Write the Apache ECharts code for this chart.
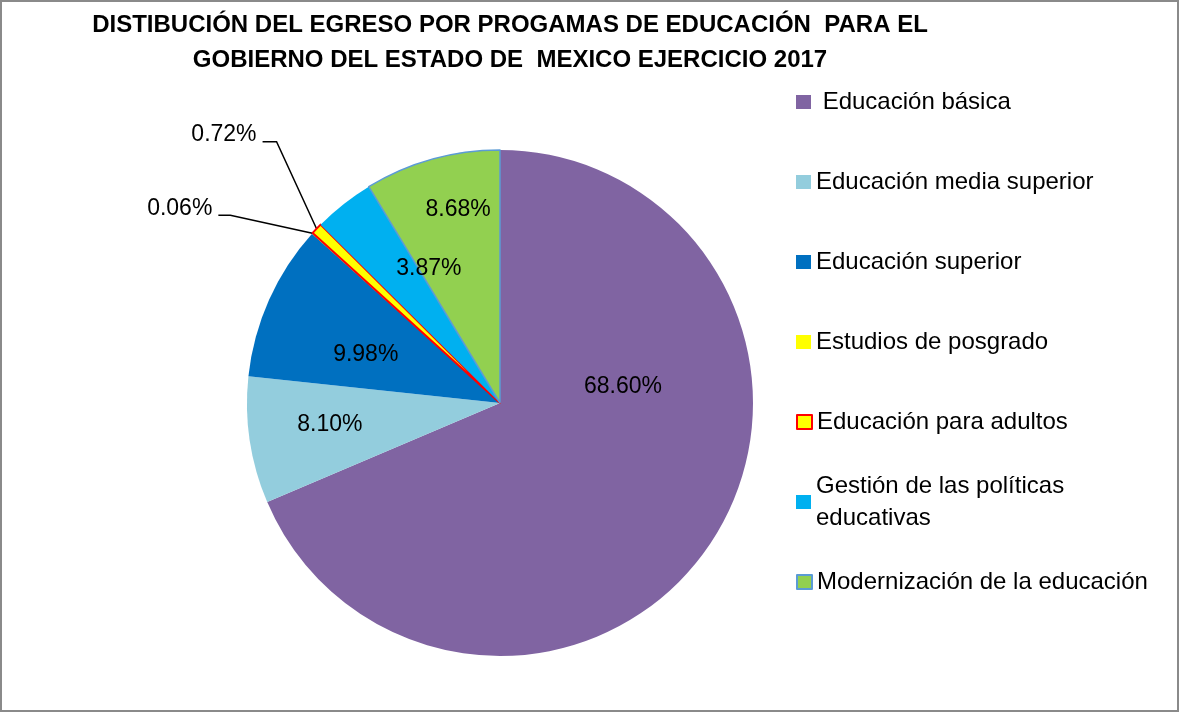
<!DOCTYPE html>
<html><head><meta charset="utf-8">
<script src="https://cdn.jsdelivr.net/npm/echarts@6/dist/echarts.min.js"></script>
<style>html,body{margin:0;padding:0;background:#fff}#c{width:1180px;height:713px}</style>
</head><body><div id="c"></div>
<script>
// ---- data ----
const titleLines = ['DISTIBUCIÓN DEL EGRESO POR PROGAMAS DE EDUCACIÓN  PARA EL', 'GOBIERNO DEL ESTADO DE  MEXICO EJERCICIO 2017'];
const categories = [' Educación básica', 'Educación media superior', 'Educación superior', 'Estudios de posgrado', 'Educación para adultos', 'Gestión de las políticas educativas', 'Modernización de la educación'];
const values = [68.60, 8.10, 9.98, 0.06, 0.72, 3.87, 8.68];

// ---- styles ----
const sliceStyles = [
  {color: '#8064A2'},
  {color: '#93CDDD'},
  {color: '#0070C0'},
  {color: '#FFFF00'},
  {color: '#FFFF00', borderColor: '#FF0000', borderWidth: 2},
  {color: '#00B0F0'},
  {color: '#92D050', borderColor: '#5B9BD5', borderWidth: 1.5}
];
const outerIdx = [3, 4];
const insideShift = {0: [15, -88], 1: [-42, 3], 2: [-16, 4], 5: [9, -33], 6: [-7, -69]};
const outerGuide = {
  3: {elbow: [-82, -18], end: [-94, -18], text: [-100, -25]},
  4: {elbow: [-40, -87], end: [-54, -87], text: [-60, -94]}
};
const FONT = 'Liberation Sans, Arial, sans-serif';

const legendFirst = 102, legendPitch = 80, LH = 32;
const legends = categories.map((n, i) => {
  const c = legendFirst + i * legendPitch;
  const two = i === 5;
  return {
    data: [n], orient: 'vertical', left: 796, top: two ? c - 1.5 * LH : c - LH / 2, padding: 0,
    itemWidth: 15, itemHeight: 14, icon: 'rect', selectedMode: false,
    textStyle: Object.assign({fontFamily: FONT, fontSize: 24, color: '#000', lineHeight: LH},
      two ? {width: 290, overflow: 'break', padding: [LH, 0, 0, 0]} : {})
  };
});

const chart = echarts.init(document.getElementById('c'));
chart.setOption({
  animation: false,
  backgroundColor: '#fff',
  title: {
    text: titleLines.join('\n'), left: 510, top: 8, textAlign: 'center', padding: 0,
    textStyle: {fontFamily: FONT, fontWeight: 'bold', fontSize: 24, lineHeight: 35, color: '#000'}
  },
  legend: legends,
  graphic: [{type: 'rect', shape: {x: 1, y: 1, width: 1177, height: 710}, style: {fill: 'none', stroke: '#8a8a8a', lineWidth: 2}, silent: true}],
  series: [{
    type: 'pie', center: [500, 403], radius: 253, startAngle: 90, clockwise: true,
    avoidLabelOverlap: false,
    emphasis: {disabled: true},
    label: {show: true, position: 'inside', color: '#000', fontSize: 23, fontFamily: FONT,
      formatter: p => p.value.toFixed(2) + '%'},
    labelLine: {show: false},
    data: categories.map((n, i) => {
      const d = {name: n, value: values[i], itemStyle: sliceStyles[i]};
      if (outerIdx.includes(i)) {
        d.label = {position: 'outside'};
        d.labelLine = {show: true, length: 20, length2: 10, lineStyle: {color: '#000', width: 1.5}};
      }
      return d;
    }),
    labelLayout: function (p) {
      const i = p.dataIndex;
      if (outerGuide[i] && p.labelLinePoints) {
        const g = outerGuide[i], e = p.labelLinePoints[0];
        return {
          x: e[0] + g.text[0], y: e[1] + g.text[1], align: 'right', verticalAlign: 'middle',
          labelLinePoints: [e, [e[0] + g.elbow[0], e[1] + g.elbow[1]], [e[0] + g.end[0], e[1] + g.end[1]]]
        };
      }
      if (insideShift[i]) return {dx: insideShift[i][0], dy: insideShift[i][1]};
      return {};
    }
  }]
});
</script></body></html>
